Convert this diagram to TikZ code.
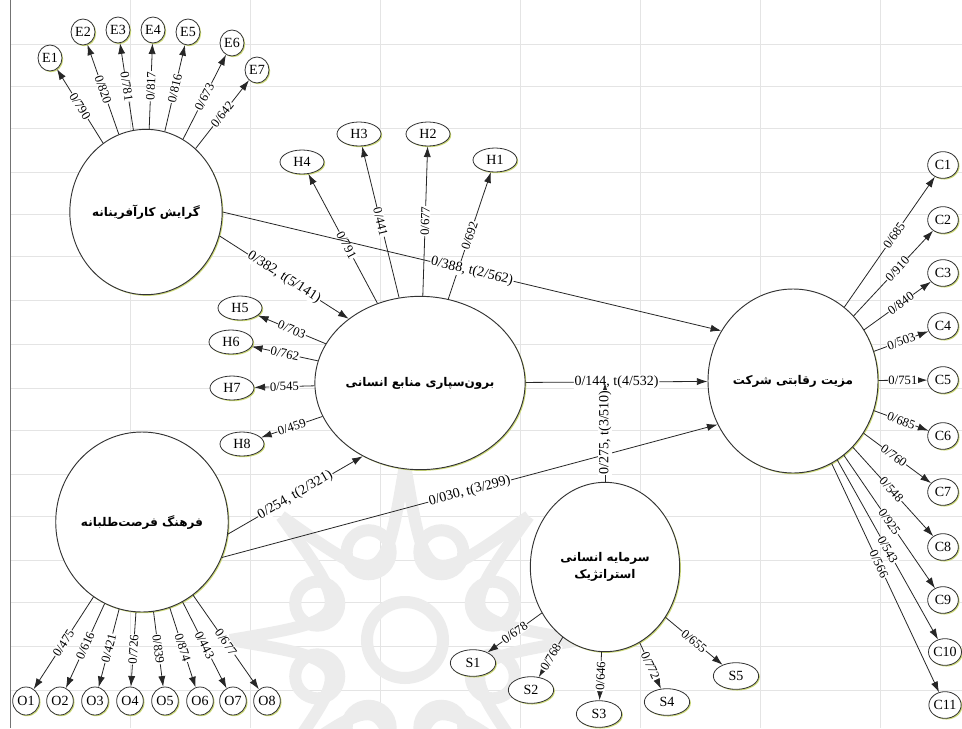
\documentclass[tikz,border=0pt]{standalone}
\usepackage{fontspec}
\setmainfont{Liberation Serif}
\newfontfamily\fa[Script=Arabic]{DejaVu Sans}
\TeXXeTstate=1
\usetikzlibrary{arrows.meta,shapes.geometric,shadows,calc}
\definecolor{shd}{RGB}{205,218,120}
\definecolor{grd}{RGB}{228,228,228}
\definecolor{wmk}{RGB}{236,236,236}
\begin{document}
\begin{tikzpicture}[x=0.75pt,y=-0.75pt,
  shadowed/.style={drop shadow={shadow xshift=0.9pt,shadow yshift=-0.9pt,fill=shd,opacity=1}},
  lat/.style={draw=black!80,line width=0.7pt,ellipse,fill=white,inner sep=0pt,shadowed,
    font=\fa\bfseries\fontsize{9}{12.5}\selectfont,align=center},
  ind/.style={draw=black!80,line width=0.6pt,ellipse,fill=white,inner sep=0pt,shadowed,
    font=\fontsize{10.5}{11}\selectfont},
  ie/.style={ind,minimum width=18pt,minimum height=19.5pt},
  ih/.style={ind,minimum width=33pt,minimum height=18pt},
  ic/.style={ind,minimum width=23pt,minimum height=20pt},
  io/.style={ind,minimum width=20pt,minimum height=21pt},
  is/.style={ind,minimum width=34pt,minimum height=20pt},
  ln/.style={draw=black!85,line width=0.6pt,-{Latex[length=8pt,width=5.4pt]}},
  lab/.style={fill=white,inner sep=0.5pt,font=\fontsize{9.5}{10}\selectfont,sloped},
  slab/.style={fill=white,inner sep=0.6pt,font=\fontsize{10.5}{11}\selectfont,sloped},
  wm/.style={draw=wmk,line width=9pt}
]
\useasboundingbox (0,0) rectangle (962,728);
\fill[white] (0,0) rectangle (962,728);
% faint background grid
\begin{scope}[draw=grd,line width=0.5pt]
\foreach \yy in {44,86,128,172,214,256,300,344,388,430,474,516,560,602,646,690}
  \draw (10,\yy) -- (962,\yy);
\foreach \xx in {130,250,380,520,640,760,880}
  \draw (\xx,0) -- (\xx,728);
\end{scope}
% faint watermark rosette
\coordinate (W) at (405,640);
\foreach \k in {0,...,7}{
  \draw[wm] ($(W)+(\k*45:175)$) .. controls ($(W)+(\k*45+22.5:55)$) .. ($(W)+(\k*45+45:175)$);
  \draw[wm] ($(W)+(\k*45+22.5:95)$) circle (22);
}
\draw[wm] (W) circle (38);
\draw[black!55,line width=0.6pt] (10,0) -- (10,728);

% latent variables
\node[lat,minimum width=111pt,minimum height=124pt] (E) at (146,212) {\beginR گرایش کارآفرینانه\endR};
\node[lat,minimum width=112pt,minimum height=130pt] (H) at (420,383) {\beginR برون‌سپاری منابع انسانی\endR};
\node[lat,minimum width=120pt,minimum height=138pt] (C) at (793,381) {\beginR مزیت رقابتی شرکت\endR};
\node[lat,minimum width=120pt,minimum height=135pt] (O) at (142,522) {\beginR فرهنگ فرصت‌طلبانه\endR};
\node[lat,minimum width=112pt,minimum height=127pt] (S) at (605,567) {\beginR سرمایه انسانی\endR\\\beginR استراتژیک\endR};

% indicators E
\node[ie] (E1) at (50,58) {E1};
\node[ie] (E2) at (83,32) {E2};
\node[ie] (E3) at (118,30) {E3};
\node[ie] (E4) at (153,30) {E4};
\node[ie] (E5) at (188,32) {E5};
\node[ie] (E6) at (232,43) {E6};
\node[ie] (E7) at (257,70) {E7};
% indicators H
\node[ih] (H1) at (495,160) {H1};
\node[ih] (H2) at (428,134) {H2};
\node[ih] (H3) at (359,134) {H3};
\node[ih] (H4) at (302,162) {H4};
\node[ih] (H5) at (240,308) {H5};
\node[ih] (H6) at (231,342) {H6};
\node[ih] (H7) at (232,388) {H7};
\node[ih] (H8) at (242,444) {H8};
% indicators C
\node[ic] (C1) at (943,165) {C1};
\node[ic] (C2) at (943,220) {C2};
\node[ic] (C3) at (943,273) {C3};
\node[ic] (C4) at (943,326) {C4};
\node[ic] (C5) at (943,380) {C5};
\node[ic] (C6) at (943,436) {C6};
\node[ic] (C7) at (943,492) {C7};
\node[ic] (C8) at (943,547) {C8};
\node[ic] (C9) at (943,600) {C9};
\node[ic] (C10) at (945,652) {C10};
\node[ic] (C11) at (945,705) {C11};
% indicators O
\node[io] (O1) at (26,701) {O1};
\node[io] (O2) at (60,701) {O2};
\node[io] (O3) at (95,701) {O3};
\node[io] (O4) at (130,701) {O4};
\node[io] (O5) at (165,701) {O5};
\node[io] (O6) at (200,701) {O6};
\node[io] (O7) at (233,701) {O7};
\node[io] (O8) at (267,701) {O8};
% indicators S
\node[is] (S1) at (473,663) {S1};
\node[is] (S2) at (531,690) {S2};
\node[is] (S3) at (599,714) {S3};
\node[is] (S4) at (667,702) {S4};
\node[is] (S5) at (736,676) {S5};

% loadings
\draw[ln] (E) -- node[lab]{0/790} (E1);
\draw[ln] (E) -- node[lab]{0/820} (E2);
\draw[ln] (E) -- node[lab]{0/781} (E3);
\draw[ln] (E) -- node[lab]{0/817} (E4);
\draw[ln] (E) -- node[lab]{0/816} (E5);
\draw[ln] (E) -- node[lab]{0/673} (E6);
\draw[ln] (E) -- node[lab]{0/642} (E7);

\draw[ln] (H) -- node[lab]{0/692} (H1);
\draw[ln] (H) -- node[lab]{0/677} (H2);
\draw[ln] (H) -- node[lab]{0/441} (H3);
\draw[ln] (H) -- node[lab,pos=0.45]{0/791} (H4);
\draw[ln] (H) -- node[lab]{0/703} (H5);
\draw[ln] (H) -- node[lab]{0/762} (H6);
\draw[ln] (H) -- node[lab]{0/545} (H7);
\draw[ln] (H) -- node[lab]{0/459} (H8);

\draw[ln] (C) -- node[lab,pos=0.55]{0/685} (C1);
\draw[ln] (C) -- node[lab,pos=0.55]{0/910} (C2);
\draw[ln] (C) -- node[lab,pos=0.55]{0/840} (C3);
\draw[ln] (C) -- node[lab]{0/503} (C4);
\draw[ln] (C) -- node[lab]{0/751} (C5);
\draw[ln] (C) -- node[lab]{0/685} (C6);
\draw[ln] (C) -- node[lab,pos=0.45]{0/760} (C7);
\draw[ln] (C) -- node[lab,pos=0.48]{0/548} (C8);
\draw[ln] (C) -- node[lab,pos=0.5]{0/925} (C9);
\draw[ln] (C) -- node[lab,pos=0.5]{0/543} (C10);
\draw[ln] (C) -- node[lab,pos=0.44]{0/566} (C11);

\draw[ln] (O) -- node[lab]{0/475} (O1);
\draw[ln] (O) -- node[lab]{0/616} (O2);
\draw[ln] (O) -- node[lab]{0/421} (O3);
\draw[ln] (O) -- node[lab]{0/726} (O4);
\draw[ln] (O) -- node[lab]{0/839} (O5);
\draw[ln] (O) -- node[lab]{0/874} (O6);
\draw[ln] (O) -- node[lab]{0/443} (O7);
\draw[ln] (O) -- node[lab]{0/677} (O8);

\draw[ln] (S) -- node[lab]{0/678} (S1);
\draw[ln] (S) -- node[lab]{0/768} (S2);
\draw[ln] (S) -- node[lab]{0/646} (S3);
\draw[ln] (S) -- node[lab]{0/772} (S4);
\draw[ln] (S) -- node[lab]{0/655} (S5);

% structural paths
\draw[ln] (E.-18) -- node[slab]{0/382, t(5/141)} (H.138);
\draw[ln] (E.east) -- node[slab]{0/388, t(2/562)} (C.145);
\draw[ln] (H) -- node[slab]{0/144, t(4/532)} (C);
\draw[ln] (O.-8) -- node[slab]{0/254, t(2/321)} (H.232);
\draw[ln] (O.-24) -- node[slab]{0/030, t(3/299)} (C.210);
\coordinate (M) at (S.north |- H.center);
\draw[ln] (S.north) -- node[slab]{0/275, t(3/510)} (M);
\end{tikzpicture}
\end{document}
